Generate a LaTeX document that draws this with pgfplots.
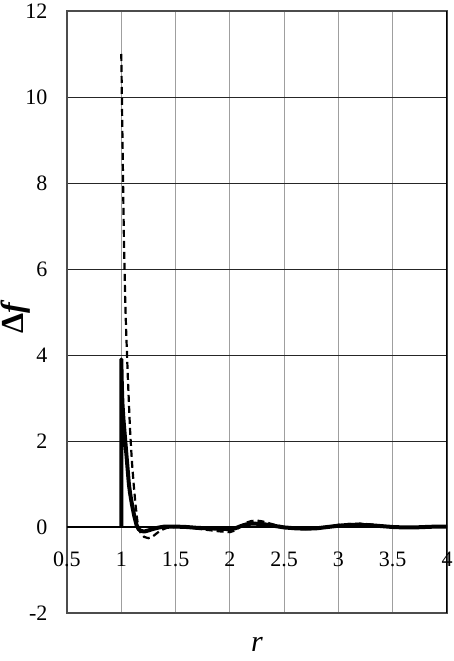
\documentclass[border=0pt]{standalone}
\usepackage{fontspec}
\setmainfont{Liberation Serif}
\usepackage{pgfplots}
\pgfplotsset{compat=1.18}

% solid: model curve, dashed: reference curve
\begin{document}
\begin{tikzpicture}
\begin{axis}[
  scale only axis,
  width=380pt, height=602pt,
  xmin=0.5, xmax=4, ymin=-2, ymax=12,
  xtick={0.5,1,1.5,2,2.5,3,3.5,4},
  ytick={-2,0,2,4,6,8,10,12},
  major tick length=0pt,
  grid=major,
  x grid style={gray!75, line width=0.9pt},
  y grid style={black!85, line width=0.9pt},
  axis line style={draw=black!70, line width=1.2pt},
  /pgf/number format/assume math mode=true,
  tick label style={font=\fontsize{22}{26}\selectfont},
  xticklabel style={anchor=north, yshift=65pt},
  yticklabel style={anchor=east, xshift=-16pt},
  xlabel={\itshape r},
  xlabel style={font=\fontsize{30}{34}\selectfont, at={(axis description cs:0.5,-0.053)}, anchor=center},
  ylabel={\bfseries Δ\itshape f},
  ylabel style={font=\fontsize{32}{36}\selectfont, at={(axis description cs:-0.134,0.49)}, anchor=center},
]
\draw[black, line width=1.2pt] (axis cs:0.5,0) -- (axis cs:4,0);
\draw[black, line width=1.4pt] (axis cs:4,-2) -- (axis cs:4,12);

\addplot[black, line width=2.2pt, dash pattern=on 7pt off 4pt] coordinates {
(1.000,11.0) (1.005,10.1) (1.010,9.2) (1.015,8.3) (1.020,7.4) (1.025,6.6)
(1.030,6.0) (1.035,5.4) (1.040,4.95) (1.045,4.55) (1.053,4.0) (1.060,3.5)
(1.070,2.9) (1.080,2.3) (1.090,1.85) (1.100,1.45) (1.114,1.0) (1.130,0.55)
(1.145,0.2) (1.157,0.0) (1.180,-0.15) (1.210,-0.23) (1.250,-0.26) (1.290,-0.22)
(1.330,-0.14) (1.370,-0.07) (1.420,-0.02) (1.500,0.0) (1.600,-0.01) (1.700,-0.04)
(1.800,-0.07) (1.900,-0.10) (2.000,-0.12) (2.050,-0.08) (2.100,0.02) (2.150,0.10)
(2.200,0.14) (2.250,0.15) (2.300,0.13) (2.400,0.06) (2.500,0.0) (2.600,-0.04)
(2.700,-0.05) (2.800,-0.03) (2.900,0.01) (3.000,0.05) (3.100,0.07) (3.200,0.08)
(3.300,0.06) (3.400,0.03) (3.500,0.0) (3.600,-0.01) (3.700,-0.01) (3.800,0.0)
(3.900,0.01) (4.000,0.01)
};

\addplot[black, line width=4pt, line join=round] coordinates {
(1.000,0.0) (1.000,3.9) (1.005,3.3) (1.010,2.9) (1.020,2.5) (1.030,2.2)
(1.040,1.9) (1.050,1.6) (1.060,1.3) (1.070,1.0) (1.080,0.8) (1.090,0.65)
(1.100,0.5) (1.120,0.25) (1.140,0.05) (1.160,-0.05) (1.180,-0.09) (1.200,-0.10)
(1.220,-0.10) (1.250,-0.08) (1.300,-0.04) (1.350,-0.01) (1.400,0.01) (1.500,0.01)
(1.600,0.0) (1.700,-0.02) (1.800,-0.03) (1.900,-0.04) (2.000,-0.05) (2.050,-0.03)
(2.100,0.02) (2.150,0.06) (2.200,0.08) (2.300,0.07) (2.400,0.03) (2.500,-0.01)
(2.600,-0.03) (2.700,-0.04) (2.800,-0.03) (2.900,0.0) (3.000,0.03) (3.100,0.05)
(3.200,0.05) (3.300,0.04) (3.400,0.02) (3.500,0.0) (3.600,-0.01) (3.700,-0.01)
(3.800,0.0) (3.900,0.01) (4.000,0.01)
};
\end{axis}
\pgfresetboundingbox
\path ([shift={(-67pt,-48pt)}]current axis.south west) rectangle ([shift={(7pt,11pt)}]current axis.north east);
\end{tikzpicture}
\end{document}
